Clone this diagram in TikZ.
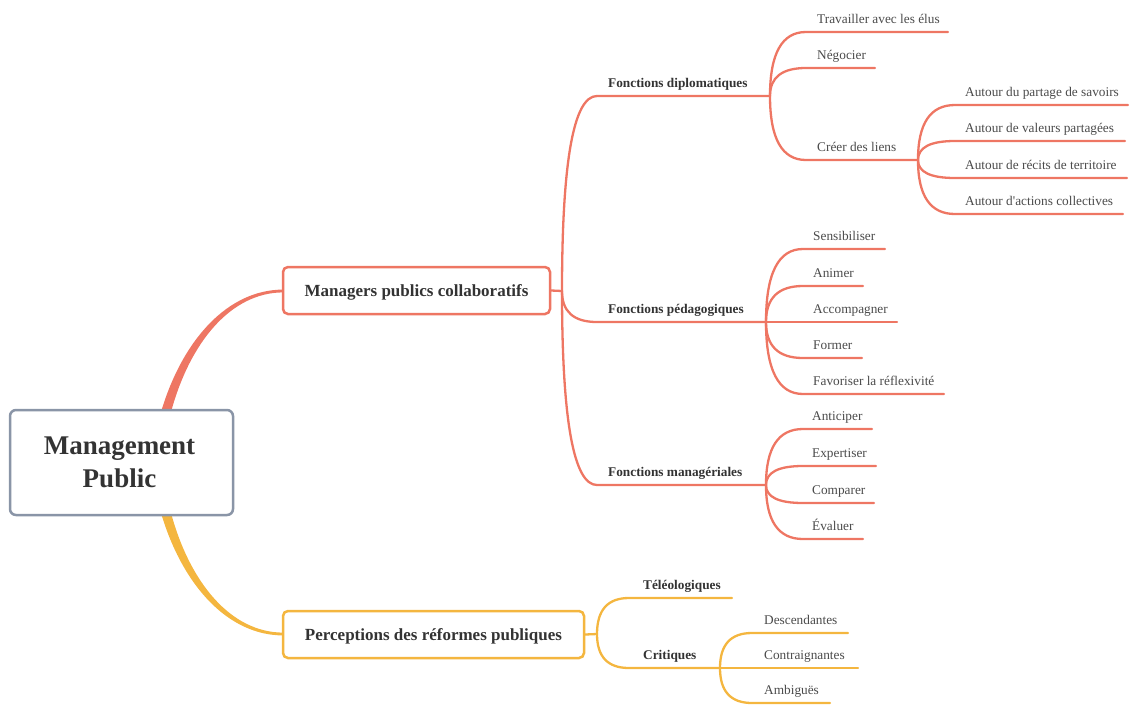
\documentclass[tikz,border=0pt]{standalone}
\usepackage{fontspec}
\setmainfont{Liberation Serif}
\usetikzlibrary{calc}
\definecolor{coral}{HTML}{EE7663}
\definecolor{gold}{HTML}{F4B63F}
\definecolor{rootgray}{HTML}{8A95A7}
\definecolor{txtdark}{HTML}{333333}
\definecolor{txtleaf}{HTML}{4A4A4A}
\tikzset{
  rootbox/.style={draw=rootgray, line width=2.5pt, rounded corners=6pt, fill=white, minimum width=223pt, minimum height=105pt, inner sep=0pt, align=center, text=txtdark, font=\fontsize{27}{34}\selectfont\bfseries},
  mainbox/.style={line width=2.5pt, rounded corners=5pt, fill=white, minimum height=47pt, inner sep=0pt, text height=11pt, text depth=0pt, text=txtdark, font=\fontsize{17}{20}\selectfont\bfseries},
  subtxt/.style={anchor=base west, inner sep=0pt, text=txtdark, font=\fontsize{13.3}{16}\selectfont\bfseries},
  leaftxt/.style={anchor=base west, inner sep=0pt, text=txtleaf, font=\fontsize{13.3}{16}\selectfont},
  cline/.style={draw=coral, line width=2.3pt, line cap=round},
  yline/.style={draw=gold, line width=2.3pt, line cap=round},
  mm/.style={to path={.. controls ($(\tikztostart)!0.667!(\tikztostart |- \tikztotarget)$) and ($(\tikztotarget)!0.667!(\tikztostart |- \tikztotarget)$) .. (\tikztotarget)}},
}
\begin{document}
\begin{tikzpicture}[x=1pt,y=-1pt]
\useasboundingbox (0,0) rectangle (1130,705);

% tapered connectors from root
\fill[coral] (161,412) .. controls (183,338) and (229,289.6) .. (283,289.6) -- (283,292.4) .. controls (231,292.6) and (190,342) .. (171,412) -- cycle;
\fill[gold] (161,513) .. controls (183,587) and (229,635.4) .. (283,635.4) -- (283,632.6) .. controls (231,632.4) and (190,583) .. (171,513) -- cycle;

% root and main boxes
\node[rootbox] (root) at (121.5,462.5) {Management\hspace*{4pt}\\[-1pt]Public\hspace*{4pt}};
\node[mainbox, draw=coral, minimum width=267pt] (mgr) at (416.5,290.5) {Managers publics collaboratifs};
\node[mainbox, draw=gold, minimum width=301pt] (perc) at (433.5,634.5) {Perceptions des réformes publiques};

% ---------- coral branch ----------
\coordinate (bpM) at (562,291);
\draw[cline] (mgr.east) -- (bpM);

\coordinate (hD) at (597,96);   \coordinate (bpD) at (770,96);
\coordinate (hP) at (597,322);  \coordinate (bpP) at (766,322);
\coordinate (hG) at (597,485);  \coordinate (bpG) at (766,485);
\draw[cline] (bpM) to[mm] (hD) -- (bpD);
\draw[cline] (bpM) to[mm] (hP) -- (bpP);
\draw[cline] (bpM) to[mm] (hG) -- (bpG);
\node[subtxt] (fD) at (608,87) {Fonctions diplomatiques};
\node[subtxt] (fP) at (608,313) {Fonctions pédagogiques};
\node[subtxt] (fG) at (608,476) {Fonctions managériales};

% diplomatiques
\coordinate (hD1) at (806,32);  \coordinate (eD1) at (948,32);
\coordinate (hD2) at (806,68);  \coordinate (eD2) at (875,68);
\coordinate (hD3) at (806,160); \coordinate (bpC) at (918,160);
\draw[cline] (bpD) to[mm] (hD1) -- (eD1);
\draw[cline] (bpD) to[mm] (hD2) -- (eD2);
\draw[cline] (bpD) to[mm] (hD3) -- (bpC);
\node[leaftxt] (d1) at (817,23) {Travailler avec les élus};
\node[leaftxt] (d2) at (817,59) {Négocier};
\node[leaftxt] (d3) at (817,151) {Créer des liens};

% creer des liens
\coordinate (hC1) at (955,105); \coordinate (eC1) at (1128,105);
\coordinate (hC2) at (955,141); \coordinate (eC2) at (1125,141);
\coordinate (hC3) at (955,178); \coordinate (eC3) at (1127,178);
\coordinate (hC4) at (955,214); \coordinate (eC4) at (1123,214);
\draw[cline] (bpC) to[mm] (hC1) -- (eC1);
\draw[cline] (bpC) to[mm] (hC2) -- (eC2);
\draw[cline] (bpC) to[mm] (hC3) -- (eC3);
\draw[cline] (bpC) to[mm] (hC4) -- (eC4);
\node[leaftxt] (c1) at (965,96) {Autour du partage de savoirs};
\node[leaftxt] (c2) at (965,132) {Autour de valeurs partagées};
\node[leaftxt] (c3) at (965,169) {Autour de récits de territoire};
\node[leaftxt] (c4) at (965,205) {Autour d\textquotesingle actions collectives};

% pedagogiques
\coordinate (hP1) at (803,249); \coordinate (eP1) at (885,249);
\coordinate (hP2) at (803,286); \coordinate (eP2) at (863,286);
\coordinate (hP3) at (803,322); \coordinate (eP3) at (897,322);
\coordinate (hP4) at (803,358); \coordinate (eP4) at (862,358);
\coordinate (hP5) at (803,394); \coordinate (eP5) at (944,394);
\draw[cline] (bpP) to[mm] (hP1) -- (eP1);
\draw[cline] (bpP) to[mm] (hP2) -- (eP2);
\draw[cline] (bpP) -- (hP3) -- (eP3);
\draw[cline] (bpP) to[mm] (hP4) -- (eP4);
\draw[cline] (bpP) to[mm] (hP5) -- (eP5);
\node[leaftxt] (p1) at (813,240) {Sensibiliser};
\node[leaftxt] (p2) at (813,277) {Animer};
\node[leaftxt] (p3) at (813,313) {Accompagner};
\node[leaftxt] (p4) at (813,349) {Former};
\node[leaftxt] (p5) at (813,385) {Favoriser la réflexivité};

% manageriales
\coordinate (hG1) at (803,429); \coordinate (eG1) at (872,429);
\coordinate (hG2) at (803,466); \coordinate (eG2) at (876,466);
\coordinate (hG3) at (803,503); \coordinate (eG3) at (874,503);
\coordinate (hG4) at (803,539); \coordinate (eG4) at (863,539);
\draw[cline] (bpG) to[mm] (hG1) -- (eG1);
\draw[cline] (bpG) to[mm] (hG2) -- (eG2);
\draw[cline] (bpG) to[mm] (hG3) -- (eG3);
\draw[cline] (bpG) to[mm] (hG4) -- (eG4);
\node[leaftxt] (g1) at (812,420) {Anticiper};
\node[leaftxt] (g2) at (812,457) {Expertiser};
\node[leaftxt] (g3) at (812,494) {Comparer};
\node[leaftxt] (g4) at (812,530) {Évaluer};

% ---------- gold branch ----------
\coordinate (bpR) at (597,634);
\draw[yline] (perc.east) -- (bpR);
\coordinate (hT) at (629,598); \coordinate (eT) at (732,598);
\coordinate (hK) at (629,668); \coordinate (bpK) at (720,668);
\draw[yline] (bpR) to[mm] (hT) -- (eT);
\draw[yline] (bpR) to[mm] (hK) -- (bpK);
\node[subtxt] (tT) at (643,589) {Téléologiques};
\node[subtxt] (tK) at (643,659) {Critiques};

\coordinate (hK1) at (752,633); \coordinate (eK1) at (848,633);
\coordinate (hK2) at (752,668); \coordinate (eK2) at (858,668);
\coordinate (hK3) at (752,703); \coordinate (eK3) at (830,703);
\draw[yline] (bpK) to[mm] (hK1) -- (eK1);
\draw[yline] (bpK) -- (eK2);
\draw[yline] (bpK) to[mm] (hK3) -- (eK3);
\node[leaftxt] (k1) at (764,624) {Descendantes};
\node[leaftxt] (k2) at (764,659) {Contraignantes};
\node[leaftxt] (k3) at (764,694) {Ambiguës};
\end{tikzpicture}
\end{document}
